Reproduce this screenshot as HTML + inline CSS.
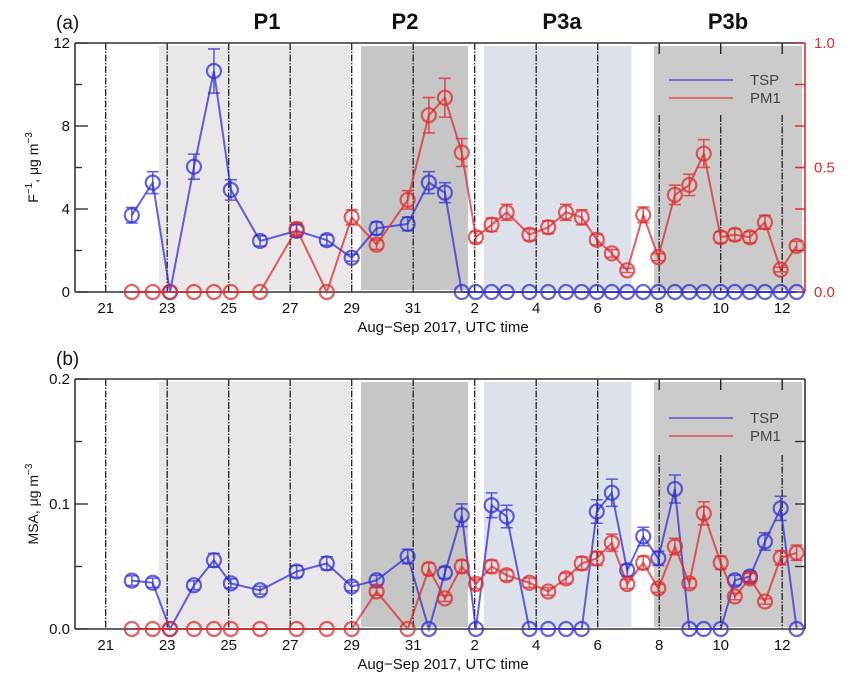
<!DOCTYPE html>
<html><head><meta charset="utf-8">
<style>
html,body{margin:0;padding:0;background:#fff;}
svg{display:block;font-family:"Liberation Sans",sans-serif;}
</style></head>
<body>
<svg id="chart" width="856" height="688" viewBox="0 0 856 688" xmlns="http://www.w3.org/2000/svg"></svg>
<script>
// ---- data ----
const times = [21.85,22.53,23.09,23.87,24.52,25.07,26.02,27.21,28.19,29.0,29.81,30.82,31.51,32.03,32.58,33.04,33.55,34.04,34.78,35.39,35.97,36.48,36.97,37.46,37.96,38.48,38.97,39.51,39.98,40.45,41.0,41.46,41.95,42.44,42.95,43.47];
const fTSP = [3.7,5.27,0,6.04,10.65,4.92,2.46,2.95,2.5,1.65,3.07,3.28,5.27,4.79,0,0,0,0,0,0,0,0,0,0,0,0,0,0,0,0,0,0,0,0,0,0];
const fPM1 = [0,0,0,0,0,0,0,0.253,0,0.30,0.19,0.37,0.71,0.78,0.56,0.22,0.27,0.32,0.23,0.26,0.32,0.30,0.21,0.155,0.087,0.31,0.14,0.39,0.43,0.556,0.22,0.23,0.22,0.28,0.09,0.185];
const msaTSP = [0.0387,0.037,0,0.035,0.055,0.0365,0.031,0.046,0.0525,0.034,0.039,0.058,0,0.045,0.091,0,0.099,0.090,0,0,0,0,0.094,0.109,0.047,0.074,0.0565,0.112,0,0,0,0.039,0.042,0.070,0.0965,0];
const msaPM1 = [0,0,0,0,0,0,0,0,0,0,0.030,0,0.048,0.0245,0.050,0.036,0.050,0.043,0.037,0.030,0.0405,0.0525,0.0565,0.069,0.036,0.053,0.0325,0.066,0.0365,0.0925,0.053,0.026,0.0405,0.022,0.057,0.061];
const dayTicks = [21,23,25,27,29,31,33,35,37,39,41,43];
const dayTickLabels = ["21","23","25","27","29","31","2","4","6","8","10","12"];
const periodNames = ["P1","P2","P3a","P3b"];
const periodStart = [22.73,29.3,33.3,38.83];
const periodEnd = [28.95,32.78,38.1,43.65];
const leftTicksA = [0,4,8,12];
const rightTicksA = ["0.0","0.5","1.0"];
const leftTicksB = ["0.0","0.1","0.2"];

const NS="http://www.w3.org/2000/svg";
const svg=document.getElementById('chart');
function el(tag,attrs,parent,text){const e=document.createElementNS(NS,tag);for(const k in attrs)e.setAttribute(k,attrs[k]);if(text!==undefined)e.textContent=text;(parent||svg).appendChild(e);return e;}

const X0=75,X1=805;
function xScale(d){return 105.7+(d-21)*30.75;}
const shadeCol=["#e9e7e7","#c6c6c6","#dde2ea","#cbcbcb"];
const BLUE="#2f2fd6", RED="#e02a2a";

function panel(cfg){
  const g=el('g',{});
  
  
  const yTop=cfg.top,yBot=cfg.bot;
  for(let i=0;i<periodNames.length;i++){
    const r=el('rect',{x:xScale(periodStart[i]),y:yTop+3,width:xScale(periodEnd[i])-xScale(periodStart[i]),height:yBot-yTop-5,fill:shadeCol[i]},g);
    
    
  }
  dayTicks.forEach((d,i)=>{
    const x=xScale(d);
    if(d>=39){
      el('line',{x1:x,x2:x,y1:yTop,y2:yTop+11,stroke:'#222','stroke-width':1.4},g);
      el('line',{x1:x,x2:x,y1:cfg.gapEnd,y2:yBot,stroke:'#222','stroke-width':1.3,'stroke-dasharray':'7,1.5,1.5,1.5'},g);
    } else {
      el('line',{x1:x,x2:x,y1:yTop,y2:yBot,stroke:'#222','stroke-width':1.3,'stroke-dasharray':'7,1.5,1.5,1.5'},g);
    }
    const t=el('text',{x:x,y:yBot+21,'font-size':15,'text-anchor':'middle',fill:'#111'},g,dayTickLabels[i]);
    
    
  });
  el('line',{x1:X0,x2:X1,y1:yTop,y2:yTop,stroke:'#333','stroke-width':1.6},g);
  el('line',{x1:X0,x2:X1,y1:yBot,y2:yBot,stroke:'#333','stroke-width':1.6},g);
  el('line',{x1:X0,x2:X0,y1:yTop,y2:yBot,stroke:'#333','stroke-width':1.6},g);
  el('line',{x1:X1,x2:X1,y1:yTop,y2:yBot,stroke:cfg.rightColor,'stroke-width':1.6},g);
  for(let k=0;k<=cfg.leftMinorN;k++){
    const y=yBot-(yBot-yTop)*k/cfg.leftMinorN;
    el('line',{x1:X0,x2:X0+(k%2===0?13:7),y1:y,y2:y,stroke:'#333','stroke-width':1.4},g);
  }
  cfg.leftLabels.forEach((lab,i)=>{
    const y=yBot-(yBot-yTop)*i/(cfg.leftLabels.length-1);
    const t=el('text',{x:X0-5,y:y+5,'font-size':15,'text-anchor':'end',fill:'#111'},g,lab);
    
    
  });
  for(let k=1;k<cfg.rightN;k++){
    const y=yBot-(yBot-yTop)*k/cfg.rightN;
    el('line',{x1:X1-10,x2:X1,y1:y,y2:y,stroke:cfg.rightColor,'stroke-width':1.4},g);
  }
  if(cfg.rightLabels){
    cfg.rightLabels.forEach((lab,i)=>{
      const y=yBot-(yBot-yTop)*i/(cfg.rightLabels.length-1);
      el('line',{x1:X1-8,x2:X1,y1:y,y2:y,stroke:cfg.rightColor,'stroke-width':1.4},g);
      const t=el('text',{x:X1+9,y:y+5,'font-size':15,fill:cfg.rightColor},g,lab);
      
      
    });
  }
  const yt=el('text',{x:0,y:0,'font-size':14,'text-anchor':'middle',fill:'#111',transform:`translate(38,${(yTop+yBot)/2}) rotate(-90)`},g);
  yt.innerHTML=cfg.yTitle;
  
  
  const xt=el('text',{x:443,y:yBot+40,'font-size':15,'text-anchor':'middle',fill:'#111'},g,'Aug\u2212Sep 2017, UTC time');
  
  
  const pl=el('text',{x:56,y:yTop-14,'font-size':19,fill:'#111'},g,cfg.label);
  
  
  cfg.series.forEach(s=>{
    const sy=v=>yBot-(v/s.max)*(yBot-yTop);
    const pts=times.map((t,i)=>xScale(t).toFixed(1)+','+sy(s.vals[i]).toFixed(1)).join(' ');
    const pl=el('polyline',{points:pts,fill:'none',stroke:s.color,'stroke-width':2,'stroke-opacity':0.75},g);
    
    
    times.forEach((t,i)=>{
      const v=s.vals[i],x=xScale(t),y=sy(v);
      if(v>0){
        const e=v*0.1;
        el('path',{d:`M${x},${sy(v+e)}V${sy(v-e)}M${x-6},${sy(v+e)}h12M${x-6},${sy(v-e)}h12`,stroke:s.color,'stroke-width':1.6,'stroke-opacity':0.75,fill:'none'},g);
      }
      const c=el('circle',{cx:x,cy:y,r:7,fill:'none',stroke:s.color,'stroke-width':2.2,'stroke-opacity':0.75},g);
      
      
    });
  });
  const lg=el('g',{},g);
  
  
  [['TSP',BLUE],['PM1',RED]].forEach((it,i)=>{
    const y=cfg.legY+i*18;
    el('line',{x1:669,x2:733,y1:y,y2:y,stroke:it[1],'stroke-width':1.6,'stroke-opacity':0.75},lg);
    const t=el('text',{x:750,y:y+5,'font-size':15,fill:'#444'},lg,it[0]);
    
    
  });
}

panel({name:'panel-a',top:43,bot:292,gapEnd:115,rightColor:RED,leftMinorN:6,leftLabels:leftTicksA.map(String),rightN:6,rightLabels:rightTicksA,
  yTitle:'F<tspan font-size="10" dy="-6">\u22121</tspan><tspan dy="6">, \u03bcg m</tspan><tspan font-size="10" dy="-6">\u22123</tspan>',label:'(a)',legY:80,
  series:[{name:'tsp-f',vals:fTSP,max:12,color:BLUE},{name:'pm1-f',vals:fPM1,max:1,color:RED}]});
panel({name:'panel-b',top:379,bot:629,gapEnd:455,rightColor:'#333',leftMinorN:4,leftLabels:leftTicksB,rightN:4,rightLabels:null,
  yTitle:'MSA, \u03bcg m<tspan font-size="10" dy="-6">\u22123</tspan>',label:'(b)',legY:418,
  series:[{name:'tsp-msa',vals:msaTSP,max:0.2,color:BLUE},{name:'pm1-msa',vals:msaPM1,max:0.2,color:RED}]});

const pCenters=[267,405,562,728];
periodNames.forEach((p,i)=>{
  const t=el('text',{x:pCenters[i],y:29,'font-size':22,'font-weight':'bold','text-anchor':'middle',fill:'#111'},svg,p);
  
  
});
</script>
</body></html>
